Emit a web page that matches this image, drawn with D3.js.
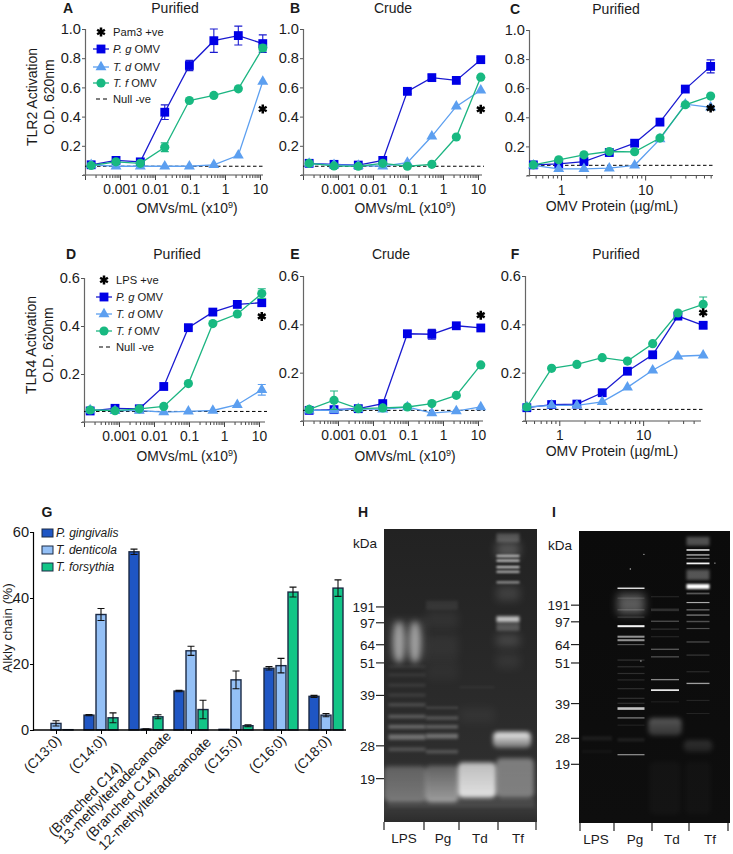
<!DOCTYPE html>
<html><head><meta charset="utf-8">
<script src="https://cdn.jsdelivr.net/npm/d3@7"></script>
<style>html,body{margin:0;padding:0;background:#fff}svg{display:block}text{font-family:"Liberation Sans",Arial,sans-serif;fill:#1a1a1a}</style>
</head><body><svg id="c" width="733" height="854"></svg>
<script>
// ---------- data: dose-response panels ----------
const doseA = [0.00015, 0.00077, 0.0038, 0.019, 0.096, 0.48, 2.4, 12];
const doseB = [0.00015, 0.00077, 0.0038, 0.019, 0.096, 0.48, 2.4, 12];
const proteinC = [0.47, 0.94, 1.875, 3.75, 7.5, 15, 30, 60];
const proteinF = [0.41, 0.81, 1.62, 3.25, 6.5, 13, 26, 52];
const omvTickLabels = ["0.001", "0.01", "0.1", "1", "10"];
const proteinTickLabels = ["1", "10"];
const tlr2Ticks = [0.2, 0.4, 0.6, 0.8, 1.0];
const tlr4Ticks = [0.2, 0.4, 0.6];

const aPg = [.07,.10,.09,.43,.75,.92,.955,.90], aPgErr = [.02,.02,.02,.05,.035,.08,.065,.06];
const aTd = [.07,.06,.06,.06,.06,.07,.135,.64], aTdErr = [.01,.01,.01,.01,.01,.01,.01,.01];
const aTf = [.065,.09,.08,.19,.51,.545,.59,.87], aTfErr = [.01,.01,.01,.03,.01,.01,.01,.02];
const bPg = [.08,.073,.068,.10,.573,.667,.648,.79], bPgErr = [.015,.01,.01,.01,.015,.02,.015,.015];
const bTd = [.078,.07,.065,.06,.085,.265,.47,.58], bTdErr = [.01,.01,.01,.01,.01,.01,.01,.01];
const bTf = [.08,.062,.06,.08,.06,.073,.26,.67], bTfErr = [.01,.01,.01,.01,.01,.01,.01,.01];
const cPg = [.073,.08,.096,.158,.222,.367,.594,.75], cPgErr = [.01,.01,.01,.01,.01,.01,.01,.045];
const cTd = [.07,.046,.046,.05,.07,.25,.49,.468], cTdErr = [.01,.01,.01,.01,.01,.01,.01,.01];
const cTf = [.073,.108,.142,.165,.163,.257,.486,.546], cTfErr = [.01,.01,.01,.01,.01,.01,.01,.01];
const dPg = [.046,.057,.055,.148,.393,.458,.49,.497], dPgErr = [.01,.01,.005,.01,.01,.01,.012,.012];
const dTd = [.05,.047,.048,.041,.044,.048,.072,.134], dTdErr = [.005,.005,.005,.005,.005,.005,.005,.022];
const dTf = [.05,.047,.055,.065,.16,.41,.45,.535], dTfErr = [.005,.005,.005,.005,.005,.005,.005,.02];
const ePg = [.044,.047,.051,.072,.361,.359,.394,.385], ePgErr = [.005,.005,.005,.005,.012,.02,.008,.008];
const eTd = [.044,.044,.05,.048,.058,.033,.041,.058], eTdErr = [.005,.005,.005,.005,.005,.005,.005,.005];
const eTf = [.048,.086,.051,.054,.058,.072,.106,.232], eTfErr = [.005,.038,.005,.005,.005,.005,.005,.005];
const fPg = [.055,.068,.07,.117,.206,.274,.434,.396], fPgErr = [.005,.005,.005,.005,.005,.005,.005,.012];
const fTd = [.058,.065,.065,.079,.139,.21,.268,.272], fTdErr = [.005,.005,.005,.005,.005,.005,.005,.005];
const fTf = [.058,.218,.234,.262,.248,.32,.447,.483], fTfErr = [.005,.005,.005,.005,.005,.005,.005,.03];
const nullLevels = {A:.06, B:.06, C:.07, D:.044, E:.044, F:.048};
const starLevels = {A:.452, B:.45, C:.463, D:.44, E:.438, F:.448};

// ---------- data: alkyl chain bars ----------
const chains = ["(C13:0)","(C14:0)","branched13","branched12","(C15:0)","(C16:0)","(C18:0)"];
const branchedLines = {branched13:["(Branched C14)","13-methyltetradecanoate"], branched12:["(Branched C14)","12-methyltetradecanoate"]};
const gingivalis = [0, 4.5, 54, 11.8, 0.2, 18.7, 10.2], gingivalisErr = [0,.2,.8,.2,0,.5,.3];
const denticola = [2, 35, 0.3, 24, 15.2, 19.5, 4.5], denticolaErr = [.8,1.8,.1,1.4,2.7,2.2,.5];
const forsythia = [0.1, 3.7, 4, 6.2, 1.3, 41.8, 43], forsythiaErr = [0,1.5,.6,2.8,.3,1.5,2.5];
const alkylTicks = [0, 20, 40, 60];

// ---------- data: gels — bands are [migration %, intensity, thickness %] ----------
const gelLanes = ["LPS","Pg","Td","Tf"];
const hMw = ["191","97","64","51","39","28","19"], hMwMigration = [26.6,32.0,39.5,45.7,56.8,74,85.2];
const iMw = ["191","97","64","51","39","28","19"], iMwMigration = [25.4,31.1,38.9,45.2,59.1,71.0,79.9];
const hLps = [[38,.1,14],[47,.07,1],[49.8,.08,1],[53.3,.09,1],[56.7,.1,1],[60,.17,1.1],[64,.24,1.2],[67.5,.29,1.3],[71,.33,1.8],[75.2,.18,1.3]];
const hLpsSmear = [[38.6,.5,5.5]];
const hPg = [[26,.07,3],[31,.05,6],[40,.05,8],[48,.03,7],[61,.11,.9],[64.5,.22,1.1],[67.5,.26,1.2],[70.7,.32,1.7],[76,.2,1.2]];
const hTd = [[54,.04,.8],[63.5,.04,5]];
const hTf = [[3,.22,3],[7,.22,5],[9.2,.7,.7],[10.8,.8,.7],[13,.8,.7],[14.6,.7,.7],[18.2,.55,.7],[22,.12,5],[30.8,.7,2],[33.5,.22,2.5],[38,.14,4],[45,.06,5]];
// blobs: [lane, migration %, top intensity, bottom intensity, thickness %, width factor, dx]
const hBlobs = [["LPS",87,.24,.32,12,1.15,-2],["Pg",87,.24,.5,12.5,1.05,0],["Td",85.7,.68,.85,12,1.1,0],["Tf",72,.95,.3,5.5,1.65,4],["Tf",85,.38,.36,13.5,1.65,7]];
const iLps = [[71,.06,1.5],[75.5,.03,1]];
const iPg = [[19.6,.95,.45],[25,.32,7],[23,.12,.4],[27,.18,.4],[29.5,.15,.4],[32.6,.95,.7],[36.2,.55,.7],[37.4,.55,.7],[38.9,.3,.4],[44.2,.16,.4],[46.5,.14,.4],[48.8,.14,.4],[51,.12,.4],[54,.14,.4],[57.3,.15,.4],[59,.14,.4],[60.8,.75,.9],[64,.4,.5],[66.5,.08,.4],[71.5,.07,1.2],[76.6,.5,.45]];
const iTd = [[22.5,.1,.4],[27,.14,.9],[30.9,.3,.4],[33.6,.16,.4],[36.2,.1,.4],[40.5,.36,.4],[43.1,.3,.4],[50.9,.5,.45],[54.5,.9,.6],[58.5,.07,.4]];
const iTf = [[3.5,.28,3],[6.5,.95,.5],[8.2,.7,.45],[9.4,.4,.45],[11.1,.95,.6],[15,.3,3.5],[19,1,1.7],[21.4,.3,.6],[24.5,.65,.4],[27,.35,.5],[28.8,.4,.5],[31,.28,.5],[33.4,.28,.4],[38,.28,.4],[42.5,.18,.4],[48.2,.12,.4],[52.2,.6,.45],[58,.12,.3],[62.5,.1,.3]];
const iBlobs = [["Td",67,.3,.16,6,1.2,0],["Tf",73.7,.14,.08,4,1.25,0],["Td",88,.025,.025,18,1.1,0],["Tf",88,.02,.02,18,1.1,0]];
const iSpecks = [[41,44.5],[34,13],[43,8],[90,11]];

// ---------- style & layout (not data) ----------
const pgColor = {line:"#1a1ad0", mark:"#0000e6"};
const tdColor = {line:"#5c9ff0", mark:"#5c9ff0"};
const tfColor = {line:"#1cb582", mark:"#18b981"};
const svg = d3.select("#c");
const defs = svg.append("defs");
[.7,.9,1.2,1.5,1.8,2.2,3,4].forEach(s=>{
  defs.append("filter").attr("id","s"+String(s).replace(".","_")).attr("filterUnits","userSpaceOnUse")
    .attr("x",0).attr("y",0).attr("width",733).attr("height",854)
    .append("feGaussianBlur").attr("stdDeviation",s);
});
const blur=s=>`url(#s${String(s).replace(".","_")})`;
function txt(g,x,y,s,o={}){
  const t=g.append("text").attr("x",x).attr("y",y).attr("font-size",o.size||14).attr("text-anchor",o.anchor||"middle");
  if(o.bold)t.attr("font-weight","bold");
  if(o.italic)t.attr("font-style","italic");
  if(o.rot!==undefined)t.attr("transform",`rotate(${o.rot} ${x} ${y})`);
  t.text(s);return t;
}
function marker(g,shape,x,y,color){
  const gen={sq:[d3.symbolSquare,78],tri:[d3.symbolTriangle,52],cir:[d3.symbolCircle,66]}[shape];
  g.append("path").attr("d",d3.symbol().type(gen[0]).size(gen[1])()).attr("transform",`translate(${x},${y})`).attr("fill",color);
}
function star(g,x,y){
  g.append("path").attr("d",d3.symbol().type(d3.symbolAsterisk).size(56)()).attr("transform",`translate(${x},${y})`)
    .attr("stroke","#000").attr("stroke-width",2.5).attr("fill","none");
}
function doseAxisLabel(g,x,y){
  const t=g.append("text").attr("x",x).attr("y",y).attr("font-size",13.8).attr("text-anchor","middle");
  t.append("tspan").text("OMVs/mL (x10");
  t.append("tspan").attr("font-size",9).attr("dy",-5).text("9");
  t.append("tspan").attr("dy",5).text(")");
}
function panel(p){
  const g=svg.append("g");
  const xs=d3.scaleLog().domain(p.xRef).range(p.xRange);
  const x=d3.scaleLog().domain([p.xRef[0],xs.invert(p.xEnd)]).range([p.xRange[0],p.xEnd]);
  const y=d3.scaleLinear().domain([0,p.yMax]).range([p.yBase,p.yTop]);
  const all=x.ticks();
  const isMajor=v=>Math.abs(Math.log10(v)-Math.round(Math.log10(v)))<1e-9;
  const minors=all.filter(v=>!isMajor(v));
  const majors=all.filter(isMajor);
  const ax=g.append("g").attr("transform",`translate(0,${p.yBase})`);
  ax.append("g").call(d3.axisBottom(x).tickValues(minors).tickSize(3).tickFormat(""));
  ax.append("g").call(d3.axisBottom(x).tickValues(majors).tickSize(5).tickPadding(4.5)
      .tickFormat(v=>{const l=p.labels.find(s=>Math.abs(+s-v)<v*1e-6);return l||"";}));
  ax.selectAll("text").attr("font-size",13.8).attr("font-family",null);
  ax.selectAll(".domain").remove();
  ax.selectAll("line").attr("stroke","#444").attr("stroke-width",1);
  ax.append("line").attr("x1",p.xRange[0]-2).attr("x2",p.xEnd).attr("stroke","#555").attr("stroke-width",1.2);
  const ay=g.append("g").attr("transform",`translate(${p.xRange[0]},0)`);
  ay.call(d3.axisLeft(y).tickValues(p.yTicks).tickSize(3).tickPadding(1).tickFormat(d3.format(".1f")));
  ay.selectAll("text").attr("font-size",14.6).attr("font-family",null);
  ay.selectAll(".domain").attr("stroke","#666").attr("stroke-width",1.2);
  ay.selectAll("line").attr("stroke","#555");
  g.append("line").attr("x1",p.xRange[0]).attr("x2",p.xEnd+2).attr("y1",y(nullLevels[p.id])).attr("y2",y(nullLevels[p.id]))
   .attr("stroke","#000").attr("stroke-width",1).attr("stroke-dasharray","3.5 2.5");
  const line=d3.line().x(d=>x(d.x)).y(d=>y(d.v));
  p.series.forEach(s=>{
    const rows=p.dose.map((d,i)=>({x:d,v:s.v[i],e:s.e[i]}));
    g.append("path").datum(rows).attr("d",line).attr("fill","none").attr("stroke",s.c.line).attr("stroke-width",1.3);
    rows.forEach(r=>{
      const px=x(r.x);
      if(r.e>=.012){
        g.append("path").attr("d",`M${px-4},${y(r.v+r.e)}H${px+4}M${px},${y(r.v+r.e)}V${y(r.v-r.e)}M${px-4},${y(r.v-r.e)}H${px+4}`)
         .attr("stroke",s.c.line).attr("fill","none").attr("stroke-width",1.1);
      }
      marker(g,s.shape,px,y(r.v),s.c.mark);
    });
  });
  star(g,x(p.dose[p.dose.length-1]),y(starLevels[p.id]));
  txt(g,p.titleX,p.titleY,p.title,{size:14});
  txt(g,p.letterX,p.titleY,p.id,{size:14,bold:true});
  if(p.protein) txt(g,p.labelX,p.labelY,"OMV Protein (µg/mL)",{size:14}); else doseAxisLabel(g,p.labelX,p.labelY);
}
const shapes=(a,ae,b,be,c,ce)=>[
 {v:a,e:ae,c:pgColor,shape:"sq"},{v:b,e:be,c:tdColor,shape:"tri"},{v:c,e:ce,c:tfColor,shape:"cir"}];
panel({id:"A",dose:doseA,xRef:[1e-4,10],xRange:[85,260],xEnd:263,yBase:175,yTop:29,yMax:1,yTicks:tlr2Ticks,labels:omvTickLabels,series:shapes(aPg,aPgErr,aTd,aTdErr,aTf,aTfErr),title:"Purified",titleX:175,titleY:13,letterX:68,labelX:187,labelY:213});
panel({id:"B",dose:doseB,xRef:[1e-4,10],xRange:[303,478],xEnd:482,yBase:175,yTop:29,yMax:1,yTicks:tlr2Ticks,labels:omvTickLabels,series:shapes(bPg,bPgErr,bTd,bTdErr,bTf,bTfErr),title:"Crude",titleX:393,titleY:13,letterX:295,labelX:405,labelY:213});
panel({id:"C",protein:true,dose:proteinC,xRef:[0.417,64],xRange:[529,713],xEnd:713,yBase:175.5,yTop:30,yMax:1,yTicks:tlr2Ticks,labels:proteinTickLabels,series:shapes(cPg,cPgErr,cTd,cTdErr,cTf,cTfErr),title:"Purified",titleX:616,titleY:14,letterX:515,labelX:612,labelY:211});
panel({id:"D",dose:doseA,xRef:[1e-4,10],xRange:[84,259],xEnd:265,yBase:422,yTop:278,yMax:.6,yTicks:tlr4Ticks,labels:omvTickLabels,series:shapes(dPg,dPgErr,dTd,dTdErr,dTf,dTfErr),title:"Purified",titleX:177,titleY:259,letterX:71,labelX:187,labelY:461});
panel({id:"E",dose:doseB,xRef:[1e-4,10],xRange:[303,478],xEnd:483,yBase:421,yTop:276,yMax:.6,yTicks:tlr4Ticks,labels:omvTickLabels,series:shapes(ePg,ePgErr,eTd,eTdErr,eTf,eTfErr),title:"Crude",titleX:391,titleY:259,letterX:295,labelX:405,labelY:461});
panel({id:"F",protein:true,dose:proteinF,xRef:[0.39,49],xRange:[525,701],xEnd:701,yBase:421,yTop:276,yMax:.6,yTicks:tlr4Ticks,labels:proteinTickLabels,series:shapes(fPg,fPgErr,fTd,fTdErr,fTf,fTfErr),title:"Purified",titleX:616,titleY:259,letterX:515,labelX:612,labelY:456});
txt(svg,37,97,"TLR2 Activation",{rot:-90,size:14});
txt(svg,54,97,"O.D. 620nm",{rot:-90,size:14});
txt(svg,36,345,"TLR4 Activation",{rot:-90,size:14});
txt(svg,53,345,"O.D. 620nm",{rot:-90,size:14});
function legend(x0,rows,first){
  const g=svg.append("g");
  const items=[{s:"star",t:[[first,false]]},{s:"sq",c:pgColor,t:[["P. g",true],[" OMV",false]]},{s:"tri",c:tdColor,t:[["T. d",true],[" OMV",false]]},{s:"cir",c:tfColor,t:[["T. f",true],[" OMV",false]]},{s:"null",t:[["Null -ve",false]]}];
  items.forEach((it,i)=>{
    const y=rows[i];
    if(it.s==="star") star(g,x0+8,y);
    else if(it.s==="null") g.append("line").attr("x1",x0+3).attr("x2",x0+14).attr("y1",y).attr("y2",y).attr("stroke","#000").attr("stroke-width",1.2).attr("stroke-dasharray","4 3");
    else { g.append("line").attr("x1",x0).attr("x2",x0+16).attr("y1",y).attr("y2",y).attr("stroke",it.c.line).attr("stroke-width",1.3); marker(g,it.s,x0+8,y,it.c.mark); }
    const t=g.append("text").attr("x",x0+20).attr("y",y+4).attr("font-size",11.2);
    it.t.forEach(([s,ital])=>t.append("tspan").attr("font-style",ital?"italic":"normal").text(s));
  });
}
legend(93,[32,49,67,83,99],"Pam3 +ve");
legend(96,[280,297,314,331,347],"LPS +ve");

// ---------- bar panel G ----------
(function(){
  const g=svg.append("g");
  const x=d3.scalePoint().domain(chains).range([56,326]);
  const y=d3.scaleLinear().domain([0,60]).range([730,532]);
  const groups=[{v:gingivalis,e:gingivalisErr,c:"#1f56c4",o:-12},{v:denticola,e:denticolaErr,c:"#94c0f6",o:0},{v:forsythia,e:forsythiaErr,c:"#12c587",o:12}];
  groups.forEach(s=>{
    chains.forEach((c,i)=>{
      const cx=x(c)+s.o,v=s.v[i],e=s.e[i];
      g.append("rect").attr("x",cx-5).attr("width",10).attr("y",y(v)).attr("height",y(0)-y(v)).attr("fill",s.c).attr("stroke","#1b2a45").attr("stroke-width",1.4);
      if(e>0) g.append("path").attr("d",`M${cx-3.5},${y(v+e)}H${cx+3.5}M${cx},${y(v+e)}V${y(v-e)}M${cx-3.5},${y(v-e)}H${cx+3.5}`).attr("stroke","#111").attr("fill","none").attr("stroke-width",1.1);
    });
  });
  const ax=g.append("g").attr("transform","translate(0,730)").call(d3.axisBottom(x).tickSize(4).tickFormat(""));
  ax.select(".domain").remove();
  ax.append("line").attr("x1",33).attr("x2",346).attr("stroke","#000").attr("stroke-width",1.4);
  const ay=g.append("g").attr("transform","translate(33,0)").call(d3.axisLeft(y).tickValues(alkylTicks).tickSize(3).tickPadding(1));
  ay.selectAll("text").attr("font-size",14.6).attr("font-family",null);
  ay.select(".domain").attr("stroke-width",1.2);
  chains.forEach(c=>{
    if(branchedLines[c]){
      const ends=c==="branched13"?[[-23,768],[26,737]]:[[-31,772],[21,743]];
      branchedLines[c].forEach((s,i)=>txt(g,x(c)+ends[i][0],ends[i][1],s,{anchor:"end",size:13.8,rot:-45}));
    } else txt(g,x(c)+6,741,c,{anchor:"end",size:13.8,rot:-45});
  });
  txt(g,12,628,"Alkly chain (%)",{rot:-90,size:13.5});
  txt(g,47,517,"G",{size:14,bold:true});
  const leg=[["P. gingivalis","#1f56c4",533],["T. denticola","#94c0f6",550],["T. forsythia","#12c587",567]];
  leg.forEach(([s,c,yy])=>{
    g.append("rect").attr("x",42).attr("y",yy-4).attr("width",11).attr("height",8).attr("fill",c).attr("stroke","#1b2a45").attr("stroke-width",1);
    txt(g,56,yy+4,s,{anchor:"start",size:12,italic:true});
  });
})();

// ---------- gels ----------
function gel(o){
  const g=svg.append("g");
  const cid="clip"+o.id;
  defs.append("clipPath").attr("id",cid).append("rect").attr("x",o.x0).attr("y",o.y0).attr("width",o.x1-o.x0).attr("height",o.y1-o.y0);
  const yS=d3.scaleLinear().domain([0,100]).range([o.y0,o.y1]);
  const xS=d3.scaleOrdinal().domain(o.lanes).range(o.laneX);
  const wS=d3.scaleOrdinal().domain(o.lanes).range(o.laneW);
  const grad=defs.append("linearGradient").attr("id","bg"+o.id).attr("x1",0).attr("x2",0).attr("y1",0).attr("y2",1);
  o.bg.forEach(([p,c])=>grad.append("stop").attr("offset",p).attr("stop-color",c));
  g.append("rect").attr("x",o.x0).attr("y",o.y0).attr("width",o.x1-o.x0).attr("height",o.y1-o.y0).attr("fill",`url(#bg${o.id})`);
  const inner=g.append("g").attr("clip-path",`url(#${cid})`);
  if(o.under) o.under(inner,yS,xS,wS);
  o.bands.forEach(([lane,rows])=>{
    rows.forEach(([m,a,t])=>{
      const h=t/100*(o.y1-o.y0);
      const sigma=t<1?o.sig[0]:t<2.5?o.sig[1]:t<4?1.8:4;
      inner.append("rect").attr("x",xS(lane)-wS(lane)/2).attr("width",wS(lane))
        .attr("y",yS(m)-h/2).attr("height",h).attr("fill","#fff").attr("opacity",a).attr("filter",blur(sigma));
    });
  });
  o.blobs.forEach(([lane,m,a,b,t,wf,dx],i)=>{
    const h=t/100*(o.y1-o.y0),w=wS(lane)*wf;
    const gid=`bl${o.id}${i}`;
    const lg=defs.append("linearGradient").attr("id",gid).attr("x1",0).attr("x2",0).attr("y1",0).attr("y2",1);
    lg.append("stop").attr("offset",0).attr("stop-color","#fff").attr("stop-opacity",a);
    lg.append("stop").attr("offset",1).attr("stop-color","#fff").attr("stop-opacity",b);
    inner.append("rect").attr("x",xS(lane)+dx-w/2).attr("width",w).attr("y",yS(m)-h/2).attr("height",h).attr("rx",5).attr("fill",`url(#${gid})`).attr("filter",blur(2.2));
  });
  if(o.over) o.over(inner,yS,xS,wS);
  o.ticks.forEach(t=>g.append("line").attr("x1",t).attr("x2",t).attr("y1",o.y1).attr("y2",o.y1+8).attr("stroke","#222").attr("stroke-width",1.2));
  o.lanes.forEach((l,i)=>txt(g,o.labelX[i],o.y1+21,l,{size:13.5}));
  o.mw.forEach((s,i)=>{
    const yy=yS(o.mwM[i]);
    txt(g,o.x0-9,yy+5,s,{anchor:"end",size:13.5});
    g.append("line").attr("x1",o.x0-8).attr("x2",o.x0).attr("y1",yy).attr("y2",yy).attr("stroke","#222").attr("stroke-width",1.2);
  });
  txt(g,o.x0-7,o.y0+19,"kDa",{anchor:"end",size:13.5});
  txt(g,o.letterX,517,o.id,{size:14,bold:true});
}
gel({id:"H",x0:384,x1:537,y0:529,y1:822,lanes:gelLanes,laneX:[407,442,477,508],laneW:[37,32,35,23],sig:[.9,1.5],
  bg:[[0,"#222"],[.5,"#292929"],[.8,"#2e2e2e"],[.95,"#3a3a3a"],[1,"#2c2c2c"]],
  bands:[["LPS",hLps],["Pg",hPg],["Td",hTd],["Tf",hTf]],
  blobs:hBlobs,
  under:(g,yS)=>{
    g.append("rect").attr("x",388).attr("width",146).attr("y",yS(92)).attr("height",yS(95)-yS(92)).attr("fill","#666").attr("opacity",.35).attr("filter",blur(1.8));
  },
  over:(g,yS,xS)=>{
    hLpsSmear.forEach(([m,a,t])=>{
      [-8,8].forEach(dx=>{
        g.append("ellipse").attr("cx",xS("LPS")+dx).attr("cy",yS(m)).attr("rx",6).attr("ry",t/100*293*1.3).attr("fill","#fff").attr("opacity",a).attr("filter",blur(3));
      });
    });
  },
  ticks:[384,424,459,498,536],labelX:[404,443,480,518],mw:hMw,mwM:hMwMigration,letterX:363});
gel({id:"I",x0:579,x1:730,y0:531,y1:823,lanes:gelLanes,laneX:[597,631,665,698],laneW:[30,27,28,23],sig:[.7,1.2],
  bg:[[0,"#0b0b0b"],[1,"#0e0e0e"]],
  bands:[["LPS",iLps],["Pg",iPg],["Td",iTd],["Tf",iTf]],
  blobs:iBlobs,
  over:(g,yS)=>{ iSpecks.forEach(([px,m])=>g.append("circle").attr("cx",579+px/100*151).attr("cy",yS(m)).attr("r",.7).attr("fill","#bbb")); },
  ticks:[580,614,652,689,728],labelX:[596,635,672,710],mw:iMw,mwM:iMwMigration,letterX:554});
</script></body></html>
